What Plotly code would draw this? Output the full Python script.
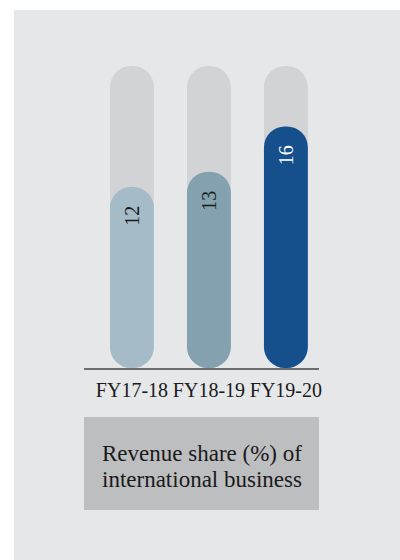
import plotly.graph_objects as go

categories = ["FY17-18", "FY18-19", "FY19-20"]
values = [12, 13, 16]
max_value = 20
bar_colors = ["#a5bcc8", "#83a1ae", "#154f8c"]
label_colors = ["#1a1a1a", "#1a1a1a", "#ffffff"]
track_color = "#d2d3d5"
title_lines = ["Revenue share (%) of", "international business"]

W, H = 400, 560
ML, MR, MT, MB = 84, 81, 66, 192
PW, PH = W - ML - MR, H - MT - MB

def px_to_paper_x(px):
    return (px - ML) / PW

def px_to_paper_y(py):
    return (H - MB - py) / PH

serif = "Liberation Serif, Times New Roman, serif"
bw = 0.57

fig = go.Figure()

fig.add_trace(go.Bar(x=categories, y=[max_value] * len(categories), base=[0] * len(categories),
                     marker=dict(color=track_color, cornerradius="50%", line=dict(width=0)),
                     width=bw, hoverinfo="skip"))
fig.add_trace(go.Bar(x=categories, y=values, base=[0] * len(categories),
                     marker=dict(color=bar_colors, cornerradius="50%", line=dict(width=0)),
                     width=bw, hoverinfo="skip"))

annotations = []
for c, v, col in zip(categories, values, label_colors):
    annotations.append(dict(x=c, y=v, xref="x", yref="y", text=str(v), showarrow=False,
                            textangle=-90, yshift=-29, yanchor="middle",
                            font=dict(family=serif, size=20, color=col)))

for line, cy in zip(title_lines, [454, 479]):
    annotations.append(dict(x=px_to_paper_x(201.5), y=px_to_paper_y(cy), xref="paper", yref="paper",
                            text=line, showarrow=False, xanchor="center", yanchor="middle",
                            font=dict(family=serif, size=23, color="#1a1a1a")))

shapes = [
    dict(type="rect", xref="paper", yref="paper", layer="below",
         x0=px_to_paper_x(14), x1=px_to_paper_x(401), y0=px_to_paper_y(561), y1=px_to_paper_y(10),
         fillcolor="#e6e7e9", line=dict(width=0)),
    dict(type="rect", xref="paper", yref="paper", layer="below",
         x0=px_to_paper_x(84), x1=px_to_paper_x(319), y0=px_to_paper_y(510), y1=px_to_paper_y(417),
         fillcolor="#bdbec0", line=dict(width=0)),
]

fig.update_layout(
    width=W, height=H,
    margin=dict(l=ML, r=MR, t=MT, b=MB, pad=0),
    paper_bgcolor="#ffffff", plot_bgcolor="rgba(0,0,0,0)",
    barmode="overlay", showlegend=False,
    annotations=annotations, shapes=shapes,
    xaxis=dict(range=[-0.623, 2.43], showgrid=False, zeroline=False,
               showline=True, linecolor="#6d6e70", linewidth=1.5,
               ticks="", tickangle=0, tickfont=dict(family=serif, size=20, color="#1a1a1a"),
               ticklabelstandoff=3, fixedrange=True),
    yaxis=dict(range=[0, max_value], visible=False, fixedrange=True),
)

fig.write_html("out.html", config={"displayModeBar": False},
               post_script="document.body.style.margin='0';document.body.style.overflow='hidden';")
